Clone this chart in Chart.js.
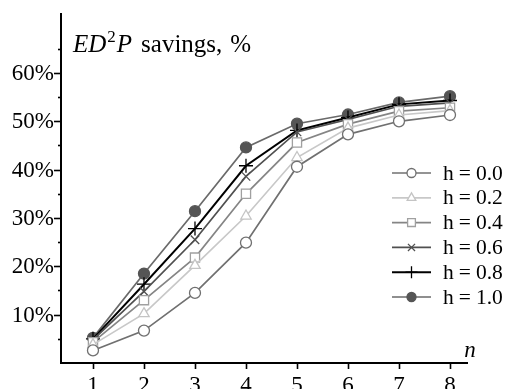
<!DOCTYPE html>
<html>
<head>
<meta charset="utf-8">
<script src="https://cdn.jsdelivr.net/npm/chart.js@4.4.1/dist/chart.umd.min.js"></script>
<style>
  html, body { margin: 0; padding: 0; background: #fff; }
  #wrap { width: 509px; height: 389px; }
</style>
</head>
<body>
<div id="wrap"><canvas id="chart" width="509" height="389"></canvas></div>
<script>
// number of cores n
var nValues = [1, 2, 3, 4, 5, 6, 7, 8];

// ED^2P savings in %, one list per h
var h00 = [2.6, 6.7, 14.5, 24.9, 40.6, 47.3, 50.0, 51.3];
var h02 = [3.8, 10.2, 20.2, 30.4, 42.5, 48.6, 51.3, 52.2];
var h04 = [4.3, 13.0, 21.8, 35.0, 45.6, 49.4, 52.1, 52.8];
var h06 = [4.8, 14.8, 25.5, 38.6, 47.8, 50.4, 53.1, 53.8];
var h08 = [5.0, 16.3, 27.8, 40.8, 48.1, 50.8, 53.5, 54.3];
var h10 = [5.2, 18.5, 31.4, 44.6, 49.5, 51.4, 53.9, 55.2];

var seriesLabels = ["h=0.0", "h=0.2", "h=0.4", "h=0.6", "h=0.8", "h=1.0"];

var yMajorTicks = [10, 20, 30, 40, 50, 60];
var yMinorTicks = [5, 15, 25, 35, 45, 55, 65];
var yTickLabels = ["10%", "20%", "30%", "40%", "50%", "60%"];
var xTickLabels = ["1", "2", "3", "4", "5", "6", "7", "8"];

var SERIF = '"Liberation Serif", "DejaVu Serif", serif';

function pts(arr) {
    var out = [];
    for (var i = 0; i < arr.length; i++) {
        out.push({ x: nValues[i], y: arr[i] });
    }
    return out;
}

function series(label, arr, line, marker, fill, style, radius, width) {
    return {
        label: label,
        data: pts(arr),
        borderColor: line,
        borderWidth: width,
        pointStyle: style,
        pointRadius: radius,
        pointHoverRadius: radius,
        pointBorderColor: marker,
        pointBackgroundColor: fill,
        pointBorderWidth: 1.3,
        tension: 0,
        fill: false
    };
}

// axes, ticks, title and legend drawn by hand on top of the scales
var framePlugin = {
    id: 'frame',
    afterDatasetsDraw: function (chart) {
        var ctx = chart.ctx;
        var xs = chart.scales.x, ys = chart.scales.y;
        var area = chart.chartArea;
        ctx.save();
        ctx.strokeStyle = '#000';
        ctx.lineWidth = 2;
        ctx.beginPath();
        ctx.moveTo(area.left, area.top);
        ctx.lineTo(area.left, area.bottom);
        ctx.lineTo(area.right, area.bottom);
        ctx.stroke();

        ctx.lineWidth = 1.6;
        var i, p;
        for (i = 0; i < yMajorTicks.length; i++) {
            p = Math.round(ys.getPixelForValue(yMajorTicks[i])) + 0.5;
            ctx.beginPath();
            ctx.moveTo(area.left - 7, p);
            ctx.lineTo(area.left + 1, p);
            ctx.stroke();
        }
        for (i = 0; i < yMinorTicks.length; i++) {
            p = Math.round(ys.getPixelForValue(yMinorTicks[i])) + 0.5;
            ctx.beginPath();
            ctx.moveTo(area.left - 3, p);
            ctx.lineTo(area.left + 1, p);
            ctx.stroke();
        }
        for (i = 0; i < nValues.length; i++) {
            p = Math.round(xs.getPixelForValue(nValues[i])) + 0.5;
            ctx.beginPath();
            ctx.moveTo(p, area.bottom);
            ctx.lineTo(p, area.bottom + 6);
            ctx.stroke();
        }

        ctx.fillStyle = '#000';
        ctx.font = '23px ' + SERIF;
        ctx.textAlign = 'right';
        ctx.textBaseline = 'middle';
        for (i = 0; i < yMajorTicks.length; i++) {
            ctx.fillText(yTickLabels[i], area.left - 7, ys.getPixelForValue(yMajorTicks[i]) + 1);
        }
        ctx.textAlign = 'center';
        ctx.textBaseline = 'top';
        for (i = 0; i < nValues.length; i++) {
            ctx.fillText(xTickLabels[i], xs.getPixelForValue(nValues[i]), area.bottom + 11);
        }

        // axis name n
        ctx.font = 'italic 23px ' + SERIF;
        ctx.textBaseline = 'alphabetic';
        ctx.fillText('n', 470, 357);

        // title ED^2P savings, %
        var tx = 73, ty = 52;
        ctx.textAlign = 'left';
        ctx.font = 'italic 25px ' + SERIF;
        ctx.fillText('ED', tx, ty);
        tx += ctx.measureText('ED').width + 1;
        ctx.font = '17px ' + SERIF;
        ctx.fillText('2', tx, ty - 10);
        tx += ctx.measureText('2').width + 1;
        ctx.font = 'italic 25px ' + SERIF;
        ctx.fillText('P', tx, ty);
        tx += ctx.measureText('P').width + 9;
        ctx.font = '25px ' + SERIF;
        ctx.fillText('savings,', tx, ty);
        tx += ctx.measureText('savings,').width + 8;
        ctx.fillText('%', tx, ty);

        // legend: line sample with marker, then label split round the "="
        var ds = chart.data.datasets;
        for (i = 0; i < ds.length; i++) {
            var ly = 173 + i * 24.8;
            ctx.strokeStyle = ds[i].borderColor;
            ctx.lineWidth = ds[i].borderWidth;
            ctx.beginPath();
            ctx.moveTo(392, ly);
            ctx.lineTo(431, ly);
            ctx.stroke();
            ctx.fillStyle = ds[i].pointBackgroundColor;
            ctx.strokeStyle = ds[i].pointBorderColor;
            ctx.lineWidth = ds[i].pointBorderWidth;
            Chart.helpers.drawPoint(ctx, {
                pointStyle: ds[i].pointStyle,
                radius: ds[i].pointRadius - 1,
                borderWidth: ds[i].pointBorderWidth,
                rotation: 0
            }, 411.5, ly);

            var parts = seriesLabels[i].split('=');
            var lx = 443;
            ctx.fillStyle = '#000';
            ctx.font = '21.5px ' + SERIF;
            ctx.textAlign = 'left';
            ctx.textBaseline = 'middle';
            ctx.fillText(parts[0], lx, ly + 1);
            lx += ctx.measureText(parts[0]).width + 5;
            ctx.fillText('=', lx, ly + 1);
            lx += ctx.measureText('=').width + 5;
            ctx.fillText(parts[1], lx, ly + 1);
        }
        ctx.restore();
    }
};

var ctx = document.getElementById('chart').getContext('2d');
new Chart(ctx, {
    type: 'line',
    data: {
        datasets: [
            series(seriesLabels[0], h00, '#707070', '#707070', '#ffffff', 'circle', 5.5, 1.7),
            series(seriesLabels[1], h02, '#c8c8c8', '#c4c4c4', '#ffffff', 'triangle', 6, 1.7),
            series(seriesLabels[2], h04, '#858585', '#a0a0a0', '#ffffff', 'rect', 6.5, 1.7),
            series(seriesLabels[3], h06, '#505050', '#505050', '#505050', 'crossRot', 6, 1.7),
            series(seriesLabels[4], h08, '#000000', '#000000', '#000000', 'cross', 7, 2),
            series(seriesLabels[5], h10, '#6a6a6a', '#555555', '#555555', 'circle', 5.5, 1.7)
        ]
    },
    options: {
        responsive: false,
        animation: false,
        clip: false,
        layout: { padding: { left: 61, right: 41, top: 13, bottom: 26 } },
        scales: {
            x: { type: 'linear', min: 0.373, max: 8.353, display: false },
            y: { type: 'linear', min: 0, max: 72.4, display: false }
        },
        plugins: {
            legend: { display: false },
            tooltip: { enabled: false }
        }
    },
    plugins: [framePlugin]
});
</script>
</body>
</html>
